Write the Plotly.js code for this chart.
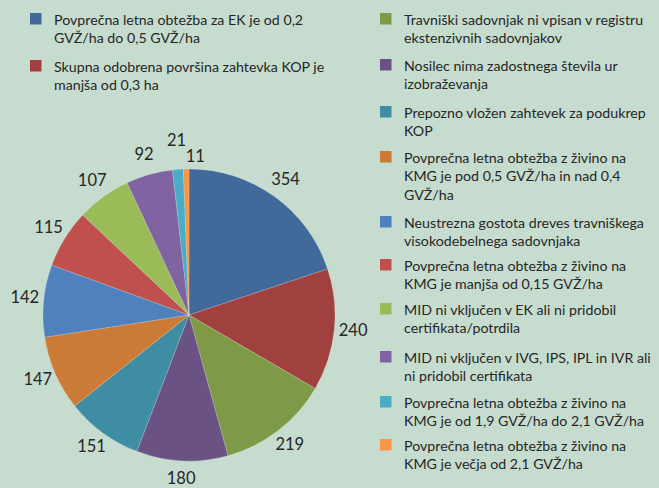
<!DOCTYPE html>
<html>
<head>
<meta charset="utf-8">
<script src="https://cdn.plot.ly/plotly-3.0.1.min.js"></script>
<style>html,body{margin:0;padding:0;background:#c6dcce;}#chart{width:659px;height:488px;}</style>
</head>
<body>
<div id="chart"></div>
<script>
// Data
var categories = [
  "Povprečna letna obtežba za EK je od 0,2<br>GVŽ/ha do 0,5 GVŽ/ha",
  "Skupna odobrena površina zahtevka KOP je<br>manjša od 0,3 ha",
  "Travniški sadovnjak ni vpisan v registru<br>ekstenzivnih sadovnjakov",
  "Nosilec nima zadostnega števila ur<br>izobraževanja",
  "Prepozno vložen zahtevek za podukrep<br>KOP",
  "Povprečna letna obtežba z živino na<br>KMG je pod 0,5 GVŽ/ha in nad 0,4<br>GVŽ/ha",
  "Neustrezna gostota dreves travniškega<br>visokodebelnega sadovnjaka",
  "Povprečna letna obtežba z živino na<br>KMG je manjša od 0,15 GVŽ/ha",
  "MID ni vključen v EK ali ni pridobil<br>certifikata/potrdila",
  "MID ni vključen v IVG, IPS, IPL in IVR ali<br>ni pridobil certifikata",
  "Povprečna letna obtežba z živino na<br>KMG je od 1,9 GVŽ/ha do 2,1 GVŽ/ha",
  "Povprečna letna obtežba z živino na<br>KMG je večja od 2,1 GVŽ/ha"
];
var values = [354, 240, 219, 180, 151, 147, 142, 115, 107, 92, 21, 11];

// Styles
var colors = ["#41699a","#a04140","#7f9a47","#6a5284","#3f8da3","#cb7b35",
              "#4f81bd","#c0504d","#9bbb59","#8064a2","#4bacc6","#f79646"];
var labelPos = ["middle center","middle center","middle center","middle center",
                "middle center","middle center","middle center","middle center",
                "middle center","middle center","top center","bottom right"];

var W = 659, H = 488;
var cx = 189, cy = 315, R = 146, RP = 172, RLABEL = 165;
function dom(r){
  return {x:[(cx-r)/W,(cx+r)/W], y:[(H-cy-r)/H,(H-cy+r)/H]};
}

var pie = {
  type:'pie', labels: categories, values: values, sort:false, direction:'clockwise',
  rotation:0, marker:{colors: colors, line:{color:'rgba(255,255,255,0.35)', width:0.5}},
  textinfo:'none', hoverinfo:'label+value', showlegend:false, domain: dom(R)
};

// value labels: placed at each slice's mid-angle on a polar scale aligned with the pie
var total = values.reduce(function(a,b){return a+b;},0);
var cum = 0;
var midTheta = values.map(function(v){ var m = (cum + v/2)/total*360; cum += v; return m; });
var valueLabels = {
  type:'scatterpolar', mode:'text', subplot:'polar',
  theta: midTheta, r: values.map(function(){return RLABEL;}),
  text: values.map(String), textposition: labelPos,
  textfont:{family:'Lato, sans-serif', size:16.5, color:'#262626'},
  hoverinfo:'skip', showlegend:false, cliponaxis:false
};

// Legend layout (pixel positions of the square tops)
var legendCol = [0,0,1,1,1,1,1,1,1,1,1,1];
var legendTop = [13,60,13,59,106,151,216,259,303,351,396,439];
var colSquareX = [30, 380];
var colTextX = [52, 402];
var sq = 11.5;

var shapes = [], annotations = [];
categories.forEach(function(c,i){
  var col = legendCol[i], t = legendTop[i];
  shapes.push({type:'rect', xref:'paper', yref:'paper',
    x0: colSquareX[col]/W, x1:(colSquareX[col]+sq)/W,
    y0: 1-(t+sq)/H, y1: 1-t/H, fillcolor: colors[i], line:{width:0}});
  annotations.push({xref:'paper', yref:'paper', x: colTextX[col]/W, y: 1-(t-4)/H,
    xanchor:'left', yanchor:'top', align:'left', showarrow:false, text:c,
    font:{family:'Lato, sans-serif', size:14.2, color:'#262626'}});
});

var layout = {
  width:W, height:H, margin:{l:0,r:0,t:0,b:0},
  paper_bgcolor:'#c6dcce', plot_bgcolor:'#c6dcce',
  showlegend:false, shapes:shapes, annotations:annotations,
  polar:{
    domain: dom(RP), bgcolor:'rgba(0,0,0,0)',
    radialaxis:{range:[0,RP], visible:false, showgrid:false, showline:false, showticklabels:false, ticks:''},
    angularaxis:{rotation:90, direction:'clockwise', visible:false, showgrid:false, showline:false, showticklabels:false, ticks:''}
  }
};
Plotly.newPlot('chart',[pie, valueLabels],layout,{displayModeBar:false, staticPlot:true});
</script>
</body>
</html>
